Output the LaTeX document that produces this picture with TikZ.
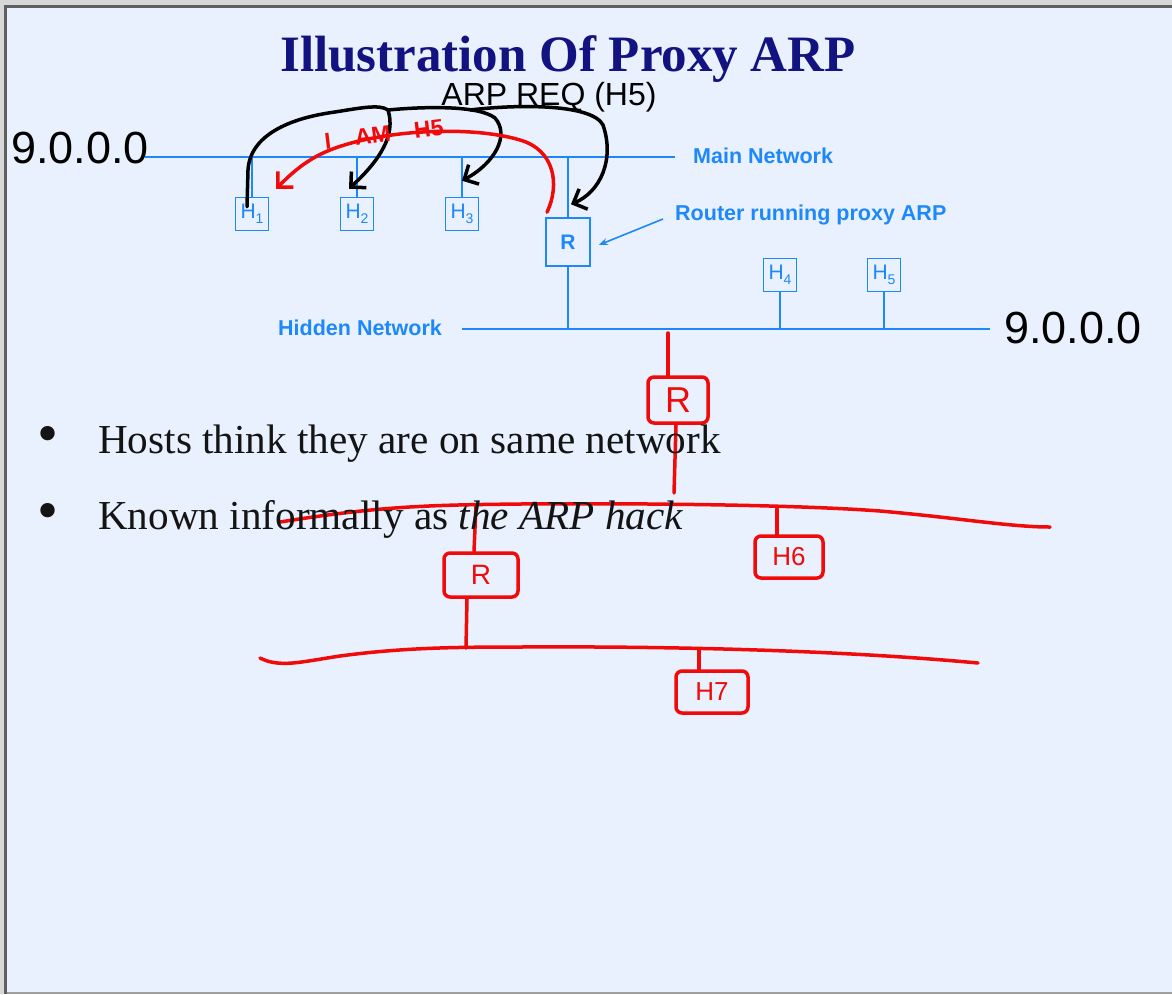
\documentclass[tikz,border=0pt]{standalone}
\usepackage{fontspec}
\setmainfont{Liberation Serif}
\setsansfont{Liberation Sans}
\usetikzlibrary{arrows.meta}
\definecolor{bg}{RGB}{232,241,253}
\definecolor{frame}{RGB}{95,95,95}
\definecolor{framelt}{RGB}{215,215,215}
\definecolor{netblue}{RGB}{30,136,250}
\definecolor{navy}{RGB}{18,18,128}
\definecolor{inkred}{RGB}{240,10,10}
\definecolor{bodytext}{RGB}{20,20,20}
\newcommand{\hsub}[1]{\raisebox{-4.5pt}{\fontsize{14}{14}\selectfont #1}}
\begin{document}
\begin{tikzpicture}[x=1pt,y=-1pt,
  net/.style={draw=netblue, line width=2.5pt},
  netthin/.style={draw=netblue, line width=1.6pt},
  netlbl/.style={text=netblue, font=\sffamily\bfseries\fontsize{21.5}{24}\selectfont, inner sep=0},
  host/.style={draw=netblue, line width=1.5pt, minimum width=33pt, minimum height=33pt, inner sep=0, text=netblue, font=\sffamily\fontsize{21}{21}\selectfont},
  router/.style={host, minimum width=44pt, minimum height=48pt, font=\sffamily\bfseries\fontsize{21}{21}\selectfont},
  blk/.style={draw=black, line width=3.5pt, line cap=round, line join=round},
  ink/.style={draw=inkred, line width=3.5pt, line cap=round, line join=round},
  inkbox/.style={ink, rounded corners=6pt, inner sep=0, text=inkred, font=\sffamily\fontsize{26}{26}\selectfont},
  barb/.style={-{Straight Barb[length=11pt,width=22pt]}},
  hand/.style={font=\sffamily\fontsize{32}{32}\selectfont, inner sep=0},
  body/.style={inner sep=0, text=bodytext, font=\fontsize{41.2}{41.2}\selectfont},
  bul/.style={inner sep=0, text=bodytext, font=\fontsize{60}{60}\selectfont}
]
\useasboundingbox (0,0) rectangle (1172,994);
% page and frame
\fill[framelt] (0,0) rectangle (1172,994);
\fill[bg] (7,8) rectangle (1172,992);
\fill[frame] (4,5) rectangle (1172,8);
\fill[frame] (4,5) rectangle (7,994);
\fill[frame!60] (7,992) rectangle (1172,994);

% title
\node[anchor=base, inner sep=0, text=navy, font=\bfseries\fontsize{51}{51}\selectfont] (title) at (568,71) {Illustration Of Proxy ARP};

% networks
\coordinate (mainL) at (145,157);
\coordinate (mainR) at (675,157);
\coordinate (hidL) at (462,329);
\coordinate (hidR) at (990,329);
\draw[net] (mainL) -- (mainR);
\draw[net] (hidL) -- (hidR);
\node[netlbl, anchor=base west] (mainlbl) at (693,163.5) {Main Network};
\node[netlbl, anchor=base west] (hidlbl) at (278,335.5) {Hidden Network};
\node[netlbl, anchor=base west] (rlbl) at (675,220.5) {Router running proxy ARP};

% hosts and router
\node[host] (h1) at (252,214) {H\hsub{1}};
\node[host] (h2) at (357,214) {H\hsub{2}};
\node[host] (h3) at (462,214) {H\hsub{3}};
\node[router] (r) at (568,242) {R};
\node[host] (h4) at (780,275) {H\hsub{4}};
\node[host] (h5) at (884,275) {H\hsub{5}};
\draw[netthin] (h1.north) -- (h1.north |- mainL);
\draw[netthin] (h2.north) -- (h2.north |- mainL);
\draw[netthin] (h3.north) -- (h3.north |- mainL);
\draw[netthin] (r.north) -- (r.north |- mainL);
\draw[netthin] (r.south) -- (r.south |- hidL);
\draw[netthin] (h4.south) -- (h4.south |- hidL);
\draw[netthin] (h5.south) -- (h5.south |- hidL);
\coordinate (rarr) at (663,219);
\draw[netthin, -{Stealth[length=9pt,width=7pt]}] (rarr) -- ([xshift=8pt,yshift=-3pt]r.east);

% handwritten black: ARP REQ broadcast
\node[hand, anchor=base] (req) at (549,105) {ARP REQ (H5)};
\node[hand, font=\sffamily\fontsize{45}{45}\selectfont, anchor=base west] (netL) at (11,163) {9.0.0.0};
\node[hand, font=\sffamily\fontsize{45}{45}\selectfont, anchor=base west] (netR) at (1004,343) {9.0.0.0};
\coordinate (hub) at (388,110);
\coordinate (hub2) at (470,110);
\draw[blk, barb] ([xshift=-5pt,yshift=-10pt]h1.north) -- (248,170)
   .. controls (250,135) and (290,118) .. (335,112)
   .. controls (360,108) and (380,104) .. (hub)
   .. controls (396,135) and (380,160) .. ([xshift=-8pt,yshift=8pt]h2.north);
\draw[blk, barb] (hub) .. controls (430,106) and (480,106) .. (495,118)
   .. controls (510,135) and (495,163) .. ([yshift=16pt]h3.north);
\draw[blk, barb] (hub2) .. controls (520,104) and (592,104) .. (603,125)
   .. controls (615,160) and (600,192) .. ([xshift=3pt,yshift=13pt]r.north);

% handwritten red: reply
\node[text=inkred, font=\sffamily\bfseries\fontsize{23}{23}\selectfont, rotate=7, inner sep=0] (iam) at (384,134) {I\hspace{24pt}AM\hspace{24pt}H5};
\draw[ink, barb] ([xshift=-21pt,yshift=5pt]r.north)
   .. controls (560,185) and (555,150) .. (520,140)
   .. controls (470,125) and (380,130) .. (330,150)
   .. controls (305,160) and (290,175) .. ([xshift=24pt,yshift=8pt]h1.north);

% handwritten red: extension below
\coordinate (ra) at (668,333);
\coordinate (rb) at (674,493);
\node[inkbox, minimum width=60pt, minimum height=46pt, font=\sffamily\fontsize{36}{36}\selectfont] (rr1) at (678,400) {R};
\draw[ink] (ra) -- (rr1.north -| ra);
\draw[ink] ([xshift=-2pt]rr1.south) -- (rb);
\coordinate (m1) at (280,522);
\coordinate (m2) at (1050,527);
\draw[ink] (m1) .. controls (380,506) and (430,505) .. (520,504)
   .. controls (650,503) and (800,505) .. (880,511)
   .. controls (960,518) and (1010,527) .. (m2);
\node[inkbox, minimum width=68pt, minimum height=42pt] (h6) at (789,557) {H6};
\draw[ink] (777,509) -- (h6.north -| 777,0);
\node[inkbox, minimum width=74pt, minimum height=44pt, font=\sffamily\fontsize{28}{28}\selectfont] (rr2) at (481,575) {R};
\draw[ink] (476,505) -- (rr2.north -| 474,0);
\coordinate (b1) at (260,658);
\coordinate (b2) at (978,663);
\draw[ink] ([xshift=-14pt]rr2.south) -- (466,648);
\draw[ink] (b1) .. controls (280,668) and (300,662) .. (340,656)
   .. controls (400,648) and (450,647) .. (520,647)
   .. controls (700,646) and (860,652) .. (b2);
\node[inkbox, minimum width=72pt, minimum height=42pt] (h7) at (712,692) {H7};
\draw[ink] (699,650) -- (h7.north -| 699,0);

% bullets
\node[bul, anchor=center] (b1dot) at (48,440) {\textbullet};
\node[body, anchor=base west] (t1) at (98,453) {Hosts think they are on same network};
\node[bul, anchor=center] (b2dot) at (48,517) {\textbullet};
\node[body, anchor=base west] (t2) at (98,529) {Known informally as \textit{the ARP hack}};
\end{tikzpicture}
\end{document}
